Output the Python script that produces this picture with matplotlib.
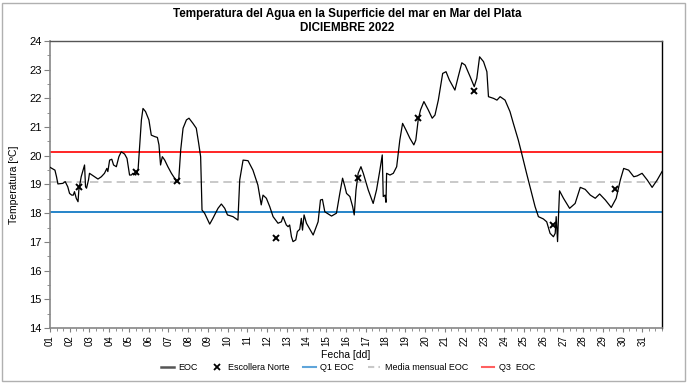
import matplotlib
matplotlib.use("Agg")
import matplotlib.pyplot as plt
from matplotlib.lines import Line2D
from matplotlib.patches import Rectangle
from matplotlib.ticker import MultipleLocator

plt.rcParams['font.family'] = ['Liberation Sans', 'DejaVu Sans']

title = "Temperatura del Agua en la Superficie del mar en Mar del Plata\nDICIEMBRE 2022"
xlabel = "Fecha [dd]"
ylabel = "Temperatura [ºC]"

# EOC continuous series (day of month, temperature)
eoc_day = [1.00, 1.25, 1.33, 1.40, 1.65, 1.77, 1.90, 1.99, 2.10, 2.18, 2.24, 2.33, 2.42, 2.46,
           2.58, 2.75, 2.80, 2.85, 2.95, 3.00, 3.26, 3.43, 3.60, 3.76, 3.88, 3.93, 4.02, 4.13,
           4.22, 4.36, 4.49, 4.61, 4.78, 4.90, 4.98, 5.03, 5.12, 5.20, 5.34, 5.46, 5.54, 5.63,
           5.71, 5.84, 6.01, 6.13, 6.30, 6.44, 6.52, 6.60, 6.69, 6.81, 6.97, 7.15, 7.31, 7.40,
           7.52, 7.62, 7.74, 7.91, 8.04, 8.24, 8.41, 8.53, 8.63, 8.70, 8.83, 9.09, 9.25, 9.51,
           9.68, 9.85, 9.99, 10.27, 10.52, 10.61, 10.78, 11.03, 11.28, 11.53, 11.70, 11.79,
           11.96, 12.13, 12.30, 12.55, 12.72, 12.80, 12.97, 13.06, 13.14, 13.23, 13.31, 13.45,
           13.53, 13.65, 13.73, 13.79, 13.87, 13.99, 14.33, 14.58, 14.70, 14.80, 14.92, 15.26,
           15.51, 15.68, 15.82, 15.94, 16.02, 16.19, 16.33, 16.41, 16.50, 16.61, 16.75, 16.87,
           17.12, 17.37, 17.54, 17.71, 17.83, 17.88, 17.97, 18.02, 18.05, 18.22, 18.39, 18.56,
           18.72, 18.86, 19.03, 19.23, 19.43, 19.53, 19.65, 19.77, 19.94, 20.16, 20.36, 20.50,
           20.67, 20.89, 21.06, 21.23, 21.51, 21.68, 21.86, 22.03, 22.28, 22.49, 22.62, 22.76,
           22.96, 23.13, 23.21, 23.47, 23.64, 23.80, 24.05, 24.30, 24.47, 24.72, 24.89, 25.14,
           25.40, 25.57, 25.74, 25.99, 26.16, 26.33, 26.50, 26.59, 26.64, 26.71, 26.76, 26.81,
           27.01, 27.32, 27.60, 27.86, 28.11, 28.37, 28.62, 28.84, 29.13, 29.43, 29.68, 29.89,
           30.06, 30.31, 30.57, 30.74, 30.99, 31.25, 31.50, 31.76, 32.00]
eoc_temp = [19.60, 19.50, 19.27, 19.02, 19.04, 19.10, 18.92, 18.69, 18.63, 18.63, 18.75, 18.52, 18.40, 18.80,
            19.27, 19.68, 18.92, 18.87, 19.16, 19.39, 19.27, 19.19, 19.27, 19.39, 19.56, 19.45, 19.85, 19.88,
            19.68, 19.62, 19.97, 20.14, 20.06, 19.91, 19.56, 19.33, 19.33, 19.39, 19.33, 19.50, 20.32, 21.25,
            21.65, 21.54, 21.25, 20.72, 20.67, 20.64, 20.38, 19.68, 19.97, 19.85, 19.62, 19.39, 19.22, 19.10,
            19.16, 20.20, 20.96, 21.25, 21.31, 21.13, 20.96, 20.44, 19.97, 18.11, 18.00, 17.62, 17.82, 18.17,
            18.32, 18.17, 17.94, 17.88, 17.76, 19.16, 19.85, 19.83, 19.50, 18.98, 18.29, 18.63,
            18.52, 18.23, 17.88, 17.65, 17.70, 17.88, 17.59, 17.53, 17.59, 17.18, 17.01, 17.07,
            17.36, 17.44, 17.82, 17.41, 17.94, 17.65, 17.24, 17.70, 18.46, 18.48, 18.05, 17.90,
            18.00, 18.69, 19.22, 18.92, 18.69, 18.58, 18.23, 17.94, 18.81, 19.39, 19.62, 19.39,
            18.81, 18.34, 18.81, 19.50, 20.03, 18.58, 18.63, 18.38, 19.39, 19.33, 19.39, 19.62,
            20.55, 21.13, 20.90, 20.61, 20.38, 20.55, 21.25, 21.60, 21.89, 21.60, 21.31, 21.42,
            21.94, 22.87, 22.93, 22.64, 22.29, 22.76, 23.24, 23.16, 22.76, 22.41, 22.70, 23.45,
            23.28, 22.93, 22.06, 22.00, 21.94, 22.06, 21.94, 21.54, 21.13, 20.55, 20.09, 19.39,
            18.69, 18.23, 17.88, 17.80, 17.70, 17.30, 17.18, 17.30, 17.88, 17.01, 17.95, 18.78,
            18.52, 18.17, 18.34, 18.90, 18.83, 18.63, 18.52, 18.67, 18.46, 18.20, 18.52, 19.16,
            19.56, 19.50, 19.27, 19.30, 19.39, 19.16, 18.90, 19.16, 19.45]

# Escollera Norte point measurements
esc_day = [2.49, 5.37, 7.45, 12.47, 16.61, 19.66, 22.49, 26.48, 29.63]
esc_temp = [18.93, 19.45, 19.13, 17.13, 19.22, 21.30, 22.27, 17.59, 18.83]

# Monthly statistics
q1_eoc = 18.04
media_eoc = 19.10
q3_eoc = 20.13

day_ticks = list(range(1, 32))
day_labels = [f"{d:02d}" for d in day_ticks]

fig = plt.figure(figsize=(6.89, 3.83), dpi=100)
ax = fig.add_axes([50/689, 1 - 328/383, (662 - 50)/689, (328 - 41)/383])

ax.plot(eoc_day, eoc_temp, color='black', lw=0.9, zorder=3)
ax.plot(esc_day, esc_temp, linestyle='none', marker='x', color='black', ms=5, mew=1.4, zorder=4)
ax.axhline(q1_eoc, color='#0070C0', lw=1.2, zorder=2)
ax.axhline(media_eoc, color='#C0C0C0', lw=1.2, ls=(0, (5, 3)), zorder=2)
ax.axhline(q3_eoc, color='#FF0000', lw=1.2, zorder=2)

ax.set_xlim(1, 32)
ax.set_ylim(14, 24)
ax.set_xticks(day_ticks)
ax.set_xticklabels(day_labels, rotation=90, fontsize=7)
ax.xaxis.set_minor_locator(MultipleLocator(1/3))
ax.yaxis.set_major_locator(MultipleLocator(1))
ax.yaxis.set_minor_locator(MultipleLocator(0.5))
ax.tick_params(axis='y', labelsize=8, length=4, width=0.8, color='#808080', direction='out', pad=2)
ax.tick_params(axis='x', length=3, width=0.8, color='#808080', direction='out', pad=2)
ax.tick_params(which='minor', length=2, width=0.6, color='#808080', direction='out')

for s in ['left', 'bottom']:
    ax.spines[s].set_color('#868686')
    ax.spines[s].set_linewidth(1.2)
ax.spines['top'].set_color('#555555')
ax.spines['top'].set_linewidth(1.0)
ax.spines['right'].set_color('black')
ax.spines['right'].set_linewidth(1.0)

fig.text(347/689, 1 - 21/383, title, ha='center', va='center', fontsize=8.4,
         fontweight='bold', linespacing=1.2)
fig.text(346/689, 1 - 355/383, xlabel, ha='center', va='center', fontsize=7.5)
fig.text(14/689, 1 - 185/383, ylabel, ha='center', va='center', fontsize=7.5, rotation=90)

handles = [
    Line2D([], [], color='#555555', lw=1.8),
    Line2D([], [], color='black', ls='none', marker='x', ms=4, mew=1.3),
    Line2D([], [], color='#5FA5DA', lw=1.5),
    Line2D([], [], color='#C8C8C8', lw=1.5, ls=(0, (3, 2))),
    Line2D([], [], color='#FF6060', lw=1.5),
]
labels = ["EOC", "Escollera Norte", "Q1 EOC", "Media mensual EOC", "Q3  EOC"]
fig.legend(handles, labels, loc='center', bbox_to_anchor=(348/689, 1 - 368/383), ncol=5,
           frameon=False, fontsize=6.5, handlelength=1.4, columnspacing=1.5, handletextpad=0.5)

fig.patches.append(Rectangle((2/689, 2/383), 683/689, 378/383, transform=fig.transFigure,
                             fill=False, edgecolor='#B0B0B0', lw=1.0))

fig.savefig('out.png', dpi=100)
